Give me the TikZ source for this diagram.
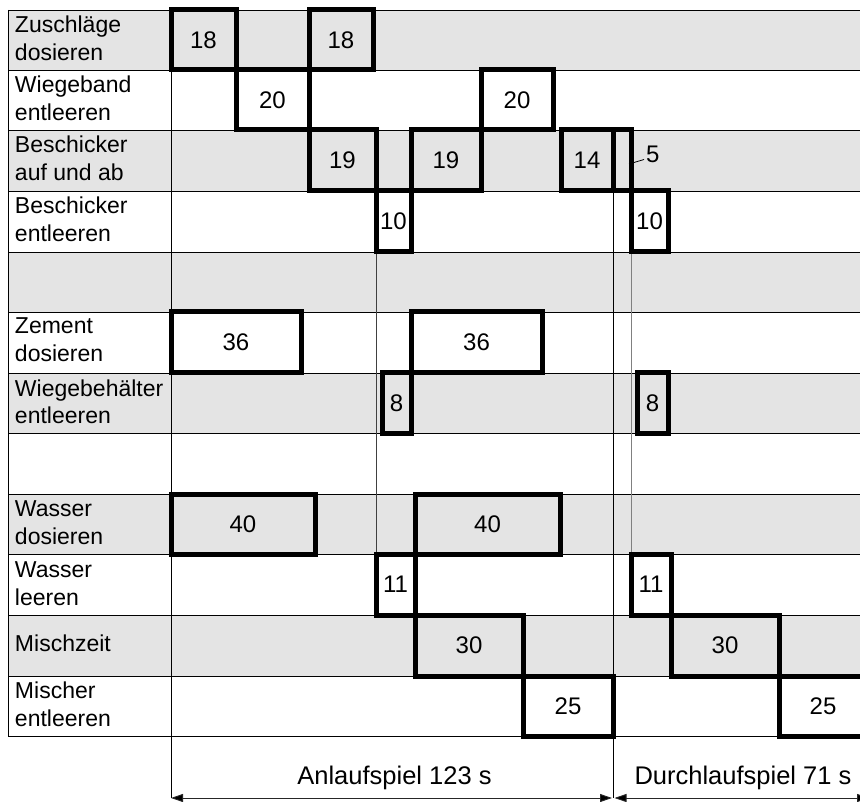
\documentclass[tikz,border=0pt]{standalone}
\usepackage{fontspec}
\setmainfont{Liberation Sans}
\usetikzlibrary{arrows.meta}
\definecolor{rowgray}{HTML}{E4E4E4}
\tikzset{
  tbox/.style={draw=black, line width=5pt, inner sep=0pt, outer sep=0pt, font=\fontsize{24}{28}\selectfont},
  lbl/.style={inner sep=0pt, outer sep=0pt, font=\fontsize{23}{28}\selectfont},
  grid/.style={draw=black, line width=0.9pt},
  thin/.style={draw=black!75, line width=0.9pt},
  thinl/.style={draw=black!50, line width=0.9pt},
  dim/.style={draw=black!85, line width=0.9pt, {Triangle[length=12pt,width=8pt,fill=black]}-{Triangle[length=12pt,width=8pt,fill=black]}},
  big/.style={inner sep=0pt, font=\fontsize{25.5}{30}\selectfont}
}
\newcommand\tbx[6]{%
  \pgfmathsetmacro\bw{#3-#2}\pgfmathsetmacro\bh{#5-#4}%
  \node[tbox, anchor=north west, minimum width=\bw pt, minimum height=\bh pt] (#1) at (#2,#4) {#6};}
\newcommand\lab[4]{\node[lbl, anchor=base west] (#1) at (15,#2) {\vtop{\hbox{#3}\hbox{#4}}};}
\begin{document}
\begin{tikzpicture}[x=1pt,y=-1pt]
\useasboundingbox (0,0) rectangle (860,802);
% gray rows
\foreach \a/\b in {10/70,130/191,252/312,373/433,494/554,615/676}
  \fill[rowgray] (8,\a) rectangle (860,\b);
% grid
\foreach \y in {10,70,130,191,252,312,373,433,494,554,615,676,736}
  \draw[grid] (8,\y) -- (860,\y);
\draw[grid] (8,10) -- (8,736);
\draw[grid] (171,10) -- (171,798);
% thin marker lines
\draw[thin] (376,252) -- (376,554);
\draw[grid] (613,191) -- (613,798);
\draw[thinl] (631,252) -- (631,554);
% boxes
\tbx{z1}{171}{236}{10}{70}{18}
\tbx{z2}{309}{373}{10}{70}{18}
\tbx{w1}{236}{309}{70}{130}{20}
\tbx{w2}{481}{553}{70}{130}{20}
\tbx{b1}{309}{376}{130}{191}{19}
\tbx{b2}{411}{481}{130}{191}{19}
\tbx{b3}{561}{613}{130}{191}{14}
\tbx{b4}{613}{631}{130}{191}{}
\tbx{e1}{376}{411}{191}{252}{10}
\tbx{e2}{631}{668}{191}{252}{10}
\tbx{c1}{171}{301}{312}{373}{36}
\tbx{c2}{411}{542}{312}{373}{36}
\tbx{h1}{382}{411}{373}{433}{8}
\tbx{h2}{637}{668}{373}{433}{8}
\tbx{d1}{171}{315}{494}{554}{40}
\tbx{d2}{415}{560}{494}{554}{40}
\tbx{l1}{376}{415}{554}{615}{11}
\tbx{l2}{631}{671}{554}{615}{11}
\tbx{m1}{415}{523}{615}{676}{30}
\tbx{m2}{671}{779}{615}{676}{30}
\tbx{x1}{523}{613}{676}{736}{25}
\tbx{x2}{779}{867}{676}{736}{25}
% label for 5
\node[lbl, anchor=base west, font=\fontsize{24}{28}\selectfont] (f5) at (646,163) {5};
\coordinate (f5a) at (629,164);
\coordinate (f5b) at (644,159.5);
\draw[line width=0.8pt] (f5a) -- (f5b);
% row labels
\lab{t1}{32.5}{Zuschläge}{dosieren}
\lab{t2}{92.5}{Wiegeband}{entleeren}
\lab{t3}{153}{Beschicker}{auf und ab}
\lab{t4}{214}{Beschicker}{entleeren}
\lab{t6}{334}{Zement}{dosieren}
\lab{t7}{396}{Wiegebehälter}{entleeren}
\lab{t9}{516.5}{Wasser}{dosieren}
\lab{t10}{577}{Wasser}{leeren}
\node[lbl, anchor=base west] (t11) at (15,651) {Mischzeit};
\lab{t12}{698.5}{Mischer}{entleeren}
% dimension arrows
\coordinate (a0) at (171,798);
\coordinate (a1) at (612,798);
\coordinate (a2) at (614.5,798);
\coordinate (a3) at (869,798);
\draw[dim] (a0) -- (a1);
\draw[dim] (a2) -- (a3);
\node[big, anchor=base] (anl) at (394.5,784) {Anlaufspiel 123 s};
\node[big, anchor=base] (dur) at (743,784) {Durchlaufspiel 71 s};
\end{tikzpicture}
\end{document}
